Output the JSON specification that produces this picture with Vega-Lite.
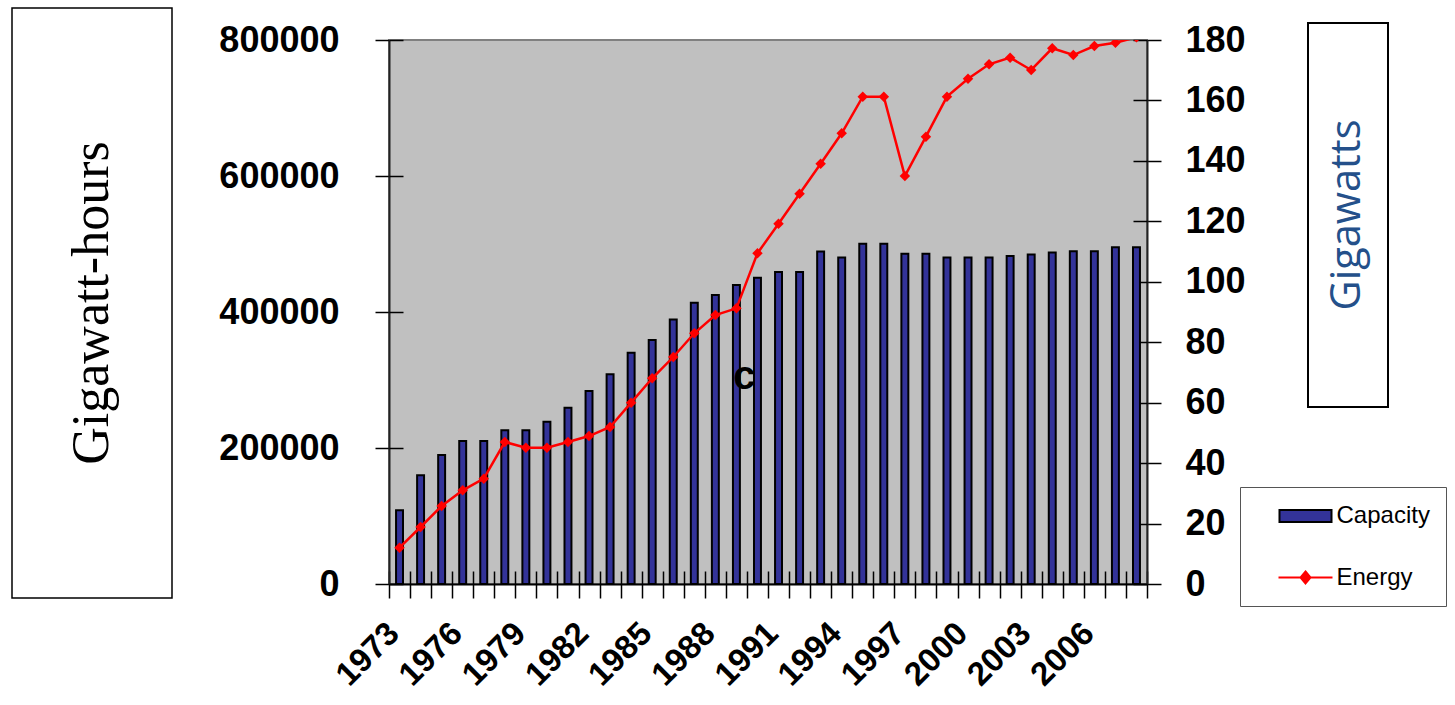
{
  "$schema": "https://vega.github.io/schema/vega-lite/v6.json",
  "background": "white",
  "padding": {"left": 11, "top": 7, "right": 0, "bottom": 0},
  "spacing": 44,
  "hconcat": [
    {
      "width": 160,
      "height": 590,
      "view": {"fill": "white", "stroke": "black", "strokeWidth": 1.5},
      "data": {"values": [{"label": "Gigawatt-hours"}]},
      "mark": {"type": "text", "angle": 270, "font": "Liberation Serif", "fontSize": 52, "color": "black", "align": "center", "baseline": "middle"},
      "encoding": {"text": {"field": "label"}}
    },
    {
      "spacing": 60,
      "hconcat": [
        {
          "spacing": 0,
          "vconcat": [
            {
              "width": 1,
              "height": 12.5,
              "view": {"fill": "transparent", "stroke": null},
              "data": {"values": []},
              "mark": "point"
            },
            {
              "width": 758,
              "height": 544,
              "view": {"fill": "#C0C0C0", "stroke": "#808080", "strokeWidth": 2},
              "data": {"values": [
                {"year": 1973, "capacity": 24.4, "energy": 53400},
                {"year": 1974, "capacity": 36.0, "energy": 83800},
                {"year": 1975, "capacity": 42.7, "energy": 114700},
                {"year": 1976, "capacity": 47.3, "energy": 137800},
                {"year": 1977, "capacity": 47.3, "energy": 154900},
                {"year": 1978, "capacity": 50.9, "energy": 208800},
                {"year": 1979, "capacity": 50.9, "energy": 200500},
                {"year": 1980, "capacity": 53.7, "energy": 200500},
                {"year": 1981, "capacity": 58.3, "energy": 208800},
                {"year": 1982, "capacity": 63.9, "energy": 217600},
                {"year": 1983, "capacity": 69.4, "energy": 230900},
                {"year": 1984, "capacity": 76.5, "energy": 266700},
                {"year": 1985, "capacity": 80.7, "energy": 302500},
                {"year": 1986, "capacity": 87.5, "energy": 333800},
                {"year": 1987, "capacity": 93.1, "energy": 368700},
                {"year": 1988, "capacity": 95.6, "energy": 395600},
                {"year": 1989, "capacity": 98.9, "energy": 405400},
                {"year": 1990, "capacity": 101.3, "energy": 486500},
                {"year": 1991, "capacity": 103.2, "energy": 529900},
                {"year": 1992, "capacity": 103.2, "energy": 574000},
                {"year": 1993, "capacity": 110.0, "energy": 618100},
                {"year": 1994, "capacity": 108.0, "energy": 662800},
                {"year": 1995, "capacity": 112.6, "energy": 716700},
                {"year": 1996, "capacity": 112.6, "energy": 716700},
                {"year": 1997, "capacity": 109.3, "energy": 600000},
                {"year": 1998, "capacity": 109.3, "energy": 657800},
                {"year": 1999, "capacity": 108.0, "energy": 716700},
                {"year": 2000, "capacity": 108.0, "energy": 743100},
                {"year": 2001, "capacity": 108.0, "energy": 764300},
                {"year": 2002, "capacity": 108.5, "energy": 774000},
                {"year": 2003, "capacity": 109.0, "energy": 755900},
                {"year": 2004, "capacity": 109.7, "energy": 787800},
                {"year": 2005, "capacity": 110.1, "energy": 777900},
                {"year": 2006, "capacity": 110.1, "energy": 791200},
                {"year": 2007, "capacity": 111.4, "energy": 796100},
                {"year": 2008, "capacity": 111.4, "energy": 804000}
              ]},
              "layer": [
                {
                  "layer": [
                    {
                      "mark": {"type": "bar", "fill": "#333399", "stroke": "#000000", "strokeWidth": 2, "width": {"band": 0.33}},
                      "encoding": {
                        "x": {
                          "field": "year", "type": "ordinal",
                          "scale": {"paddingInner": 0, "paddingOuter": 0},
                          "axis": {
                            "orient": "bottom",
                            "title": null,
                            "labelExpr": "(datum.value - 1973) % 3 === 0 ? datum.label : ''",
                            "labelAngle": -45, "labelAlign": "right", "labelBaseline": "middle",
                            "labelFont": "Liberation Sans", "labelFontWeight": "bold", "labelFontSize": 33, "labelColor": "black",
                            "labelPadding": 30, "labelOffset": -6, "labelOverlap": false, "labelBound": false, "labelFlush": false,
                            "tickBand": "extent", "tickSize": 14, "tickColor": "black", "tickWidth": 1.5,
                            "domainColor": "black", "domainWidth": 2, "grid": false
                          }
                        },
                        "y": {
                          "field": "capacity", "type": "quantitative",
                          "scale": {"domain": [0, 180], "nice": false},
                          "axis": {
                            "orient": "right",
                            "values": [0, 20, 40, 60, 80, 100, 120, 140, 160, 180],
                            "title": null,
                            "labelFont": "Liberation Sans", "labelFontWeight": "bold", "labelFontSize": 36, "labelColor": "black",
                            "labelPadding": 24, "labelOverlap": false,
                            "tickSize": 14, "tickColor": "black", "tickWidth": 1.5,
                            "domainColor": "#222222", "domainWidth": 2, "grid": false
                          }
                        }
                      }
                    },
                    {
                      "data": {"values": [{"year": 1989, "note": "c", "capacity": 68.5}]},
                      "mark": {"type": "text", "font": "Liberation Sans", "fontWeight": "bold", "fontSize": 40, "color": "black", "dx": 8, "baseline": "middle", "align": "center"},
                      "encoding": {
                        "x": {"field": "year", "type": "ordinal"},
                        "y": {
                          "field": "capacity", "type": "quantitative",
                          "axis": {
                            "orient": "right",
                            "values": [0, 20, 40, 60, 80, 100, 120, 140, 160, 180],
                            "title": null, "labels": false, "domain": false,
                            "tickSize": -14, "tickColor": "black", "tickWidth": 1.5, "grid": false
                          }
                        },
                        "text": {"field": "note"}
                      }
                    }
                  ],
                  "resolve": {"axis": {"y": "independent"}}
                },
                {
                  "layer": [
                    {
                      "mark": {"type": "line", "color": "#FF0000", "strokeWidth": 2.5, "clip": true},
                      "encoding": {
                        "x": {
                          "field": "year", "type": "ordinal",
                          "axis": {
                            "orient": "bottom", "title": null, "labels": false, "domain": false,
                            "tickBand": "extent", "tickSize": -13, "tickColor": "black", "tickWidth": 1.5, "grid": false
                          }
                        },
                        "y": {
                          "field": "energy", "type": "quantitative",
                          "scale": {"domain": [0, 800000], "nice": false},
                          "axis": {
                            "orient": "left",
                            "values": [0, 200000, 400000, 600000, 800000],
                            "format": "d",
                            "title": null,
                            "labelFont": "Liberation Sans", "labelFontWeight": "bold", "labelFontSize": 36, "labelColor": "black",
                            "labelPadding": 36, "labelOverlap": false,
                            "tickSize": 14, "tickColor": "black", "tickWidth": 1.5,
                            "domainColor": "#222222", "domainWidth": 2, "grid": false
                          }
                        }
                      }
                    },
                    {
                      "mark": {"type": "point", "shape": "diamond", "filled": true, "color": "#FF0000", "size": 110, "opacity": 1, "clip": true},
                      "encoding": {
                        "x": {"field": "year", "type": "ordinal"},
                        "y": {
                          "field": "energy", "type": "quantitative",
                          "axis": {
                            "orient": "left",
                            "values": [0, 200000, 400000, 600000, 800000],
                            "title": null, "labels": false, "domain": false,
                            "tickSize": -14, "tickColor": "black", "tickWidth": 1.5, "grid": false
                          }
                        }
                      }
                    }
                  ],
                  "resolve": {"axis": {"y": "independent"}}
                }
              ],
              "resolve": {"scale": {"y": "independent"}, "axis": {"x": "independent"}}
            }
          ]
        },
        {
          "spacing": 0,
          "vconcat": [
            {
              "width": 1,
              "height": 14,
              "view": {"fill": "transparent", "stroke": null},
              "data": {"values": []},
              "mark": "point"
            },
            {
              "width": 80,
              "height": 384,
              "view": {"fill": "white", "stroke": "black", "strokeWidth": 2},
              "layer": [
                {
                  "data": {"values": [{"label": "Gigawatts"}]},
                  "mark": {"type": "text", "angle": 270, "font": "Open Sans", "fontSize": 41.5, "color": "#24508A", "align": "center", "baseline": "middle"},
                  "encoding": {"text": {"field": "label"}}
                },
                {
                  "data": {"values": []},
                  "mark": {"type": "point", "filled": true, "opacity": 1},
                  "encoding": {
                    "shape": {
                      "field": "series", "type": "nominal",
                      "scale": {"domain": ["Capacity", "Energy"], "range": ["M-2.167,-0.5H2.167V0.5H-2.167Z", "M-2.25,0H2.25M0,-0.5L0.417,0L0,0.5L-0.417,0Z"]},
                      "legend": {"title": null, "orient": "none", "legendX": 1228, "legendY": 479, "direction": "vertical", "padding": 16, "strokeColor": "#555555", "fillColor": "white", "symbolSize": 576, "symbolStrokeWidth": 2, "symbolOffset": 36.5, "rowPadding": 36.5, "labelFont": "Liberation Sans", "labelFontSize": 24, "labelColor": "black", "labelOffset": 18, "labelLimit": 300}
                    },
                    "fill": {
                      "field": "series", "type": "nominal",
                      "scale": {"domain": ["Capacity", "Energy"], "range": ["#333399", "#FF0000"]},
                      "legend": {"title": null, "orient": "none", "legendX": 1228, "legendY": 479, "direction": "vertical", "padding": 16, "strokeColor": "#555555", "fillColor": "white", "symbolSize": 576, "symbolStrokeWidth": 2, "symbolOffset": 36.5, "rowPadding": 36.5, "labelFont": "Liberation Sans", "labelFontSize": 24, "labelColor": "black", "labelOffset": 18, "labelLimit": 300}
                    },
                    "stroke": {
                      "field": "series", "type": "nominal",
                      "scale": {"domain": ["Capacity", "Energy"], "range": ["#000000", "#FF0000"]},
                      "legend": {"title": null, "orient": "none", "legendX": 1228, "legendY": 479, "direction": "vertical", "padding": 16, "strokeColor": "#555555", "fillColor": "white", "symbolSize": 576, "symbolStrokeWidth": 2, "symbolOffset": 36.5, "rowPadding": 36.5, "labelFont": "Liberation Sans", "labelFontSize": 24, "labelColor": "black", "labelOffset": 18, "labelLimit": 300}
                    }
                  }
                }
              ]
            }
          ]
        }
      ]
    }
  ]
}
